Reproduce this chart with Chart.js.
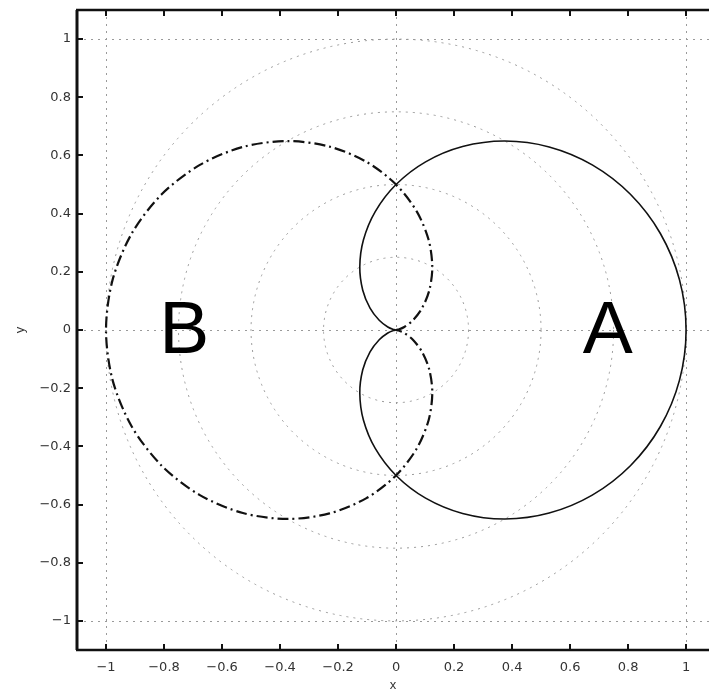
<!DOCTYPE html>
<html>
<head>
<meta charset="utf-8">
<script src="https://cdn.jsdelivr.net/npm/chart.js@4/dist/chart.umd.min.js"></script>
<style>
html,body{margin:0;padding:0;background:#fff;}
#wrap{width:709px;height:693px;position:relative;}
</style>
</head>
<body>
<div id="wrap"><canvas id="c" width="709" height="693"></canvas></div>
<script>
// ---- data ----
const tickValues = [-1, -0.8, -0.6, -0.4, -0.2, 0, 0.2, 0.4, 0.6, 0.8, 1];
// curve A: polar samples, angle (deg) and radius
const thetaA = [-180,-170,-160,-150,-140,-130,-120,-110,-100,-90,-80,-70,-60,-50,-40,-30,-20,-10,0,
                10,20,30,40,50,60,70,80,90,100,110,120,130,140,150,160,170,180];
const radiusA = [0,0.0076,0.0302,0.067,0.117,0.1786,0.25,0.329,0.4132,0.5,0.5868,0.671,0.75,0.8214,0.883,0.933,0.9698,0.9924,1.0,
                 0.9924,0.9698,0.933,0.883,0.8214,0.75,0.671,0.5868,0.5,0.4132,0.329,0.25,0.1786,0.117,0.067,0.0302,0.0076,0];
// curve B: polar samples, angle (deg) and radius
const thetaB = [0,10,20,30,40,50,60,70,80,90,100,110,120,130,140,150,160,170,180,
                190,200,210,220,230,240,250,260,270,280,290,300,310,320,330,340,350,360];
const radiusB = [0,0.0076,0.0302,0.067,0.117,0.1786,0.25,0.329,0.4132,0.5,0.5868,0.671,0.75,0.8214,0.883,0.933,0.9698,0.9924,1.0,
                 0.9924,0.9698,0.933,0.883,0.8214,0.75,0.671,0.5868,0.5,0.4132,0.329,0.25,0.1786,0.117,0.067,0.0302,0.0076,0];
const gridRings = [0.25, 0.5, 0.75, 1];
const gridLines = [-1, 0, 1];
const curveLabels = [{text:'A', x:0.73, y:0}, {text:'B', x:-0.73, y:0}];

function toXY(th, r){ return th.map((t,i)=>({x: r[i]*Math.cos(t*Math.PI/180), y: r[i]*Math.sin(t*Math.PI/180)})); }

const fmt = v => String(Math.round(v*10)/10).replace('-', '\u2212');
const FONT = '"Liberation Sans", Arial, sans-serif';
const TICKFONT = '"DejaVu Sans", sans-serif';

const polarGrid = {
  id:'polarGrid',
  beforeDatasetsDraw(chart){
    const {ctx, chartArea:a, scales:{x, y}} = chart;
    ctx.save();
    ctx.beginPath(); ctx.rect(a.left, a.top, a.right-a.left, a.bottom-a.top); ctx.clip();
    ctx.strokeStyle = '#9a9a9a'; ctx.lineWidth = 1; ctx.setLineDash([2,5]);
    const cx = x.getPixelForValue(0), cy = y.getPixelForValue(0);
    gridRings.forEach(r=>{
      const rx = x.getPixelForValue(r) - cx, ry = cy - y.getPixelForValue(r);
      ctx.beginPath(); ctx.ellipse(cx, cy, rx, ry, 0, 0, Math.PI*2); ctx.stroke();
    });
    gridLines.forEach(v=>{
      const px = Math.round(x.getPixelForValue(v))+0.5;
      ctx.beginPath(); ctx.moveTo(px, a.top); ctx.lineTo(px, a.bottom); ctx.stroke();
      const py = Math.round(y.getPixelForValue(v))+0.5;
      ctx.beginPath(); ctx.moveTo(a.left, py); ctx.lineTo(a.right, py); ctx.stroke();
    });
    ctx.restore();
  },
  afterDatasetsDraw(chart){
    const {ctx, scales:{x, y}} = chart;
    ctx.save();
    ctx.fillStyle = '#000';
    ctx.font = '75px ' + FONT;
    ctx.textAlign = 'center'; ctx.textBaseline = 'middle';
    curveLabels.forEach(l=> ctx.fillText(l.text, x.getPixelForValue(l.x), y.getPixelForValue(l.y)+2));
    ctx.restore();
  },
  afterDraw(chart){
    const {ctx, chartArea:a, scales:{x, y}} = chart;
    ctx.save();
    ctx.strokeStyle = '#111'; ctx.setLineDash([]);
    ctx.lineWidth = 2;
    tickValues.forEach(v=>{
      const px = Math.round(x.getPixelForValue(v));
      ctx.beginPath(); ctx.moveTo(px, a.bottom); ctx.lineTo(px, a.bottom-6); ctx.stroke();
      ctx.beginPath(); ctx.moveTo(px, a.top); ctx.lineTo(px, a.top+6); ctx.stroke();
      const py = Math.round(y.getPixelForValue(v));
      ctx.beginPath(); ctx.moveTo(a.left, py); ctx.lineTo(a.left+6, py); ctx.stroke();
    });
    ctx.lineWidth = 3;
    ctx.beginPath(); ctx.moveTo(a.left, a.top); ctx.lineTo(a.left, a.bottom); ctx.stroke();
    ctx.lineWidth = 2.5;
    ctx.beginPath(); ctx.moveTo(a.left-1, a.bottom); ctx.lineTo(a.right, a.bottom); ctx.stroke();
    ctx.beginPath(); ctx.moveTo(a.left-1, a.top); ctx.lineTo(a.right, a.top); ctx.stroke();
    ctx.restore();
  }
};

new Chart(document.getElementById('c'), {
  type:'scatter',
  data:{datasets:[
    {label:'A', data: toXY(thetaA, radiusA), showLine:true, borderColor:'#111', borderWidth:1.6, pointRadius:0, tension:0.3, fill:false},
    {label:'B', data: toXY(thetaB, radiusB), showLine:true, borderColor:'#111', borderWidth:2.2, borderDash:[11,4,2,4], pointRadius:0, tension:0.3, fill:false}
  ]},
  options:{
    responsive:false, animation:false,
    layout:{padding:{top:10, right:0, left:0, bottom:0}},
    plugins:{legend:{display:false}, tooltip:{enabled:false}},
    scales:{
      x:{type:'linear', min:-1.1, max:1.079,
        afterBuildTicks: s=>{ s.ticks = tickValues.map(v=>({value:v})); },
        afterFit: s=>{ s.height = 43; s.paddingLeft = 0; s.paddingRight = 0; },
        grid:{display:false, drawTicks:false, tickLength:0}, border:{display:false},
        ticks:{color:'#333', padding:10, font:{size:13, family:TICKFONT}, callback:v=>fmt(v), maxRotation:0, autoSkip:false},
        title:{display:true, text:'x', color:'#333', padding:{top:0,bottom:0}, font:{size:13, family:FONT}}
      },
      y:{type:'linear', min:-1.1, max:1.1,
        afterBuildTicks: s=>{ s.ticks = tickValues.map(v=>({value:v})); },
        afterFit: s=>{ s.width = 77; s.paddingTop = 0; s.paddingBottom = 0; },
        grid:{display:false, drawTicks:false, tickLength:0}, border:{display:false},
        ticks:{color:'#333', padding:6, font:{size:13, family:TICKFONT}, callback:v=>fmt(v), autoSkip:false},
        title:{display:true, text:'y', color:'#333', padding:{top:13,bottom:0}, font:{size:13, family:FONT}}
      }
    }
  },
  plugins:[polarGrid]
});
</script>
</body>
</html>
